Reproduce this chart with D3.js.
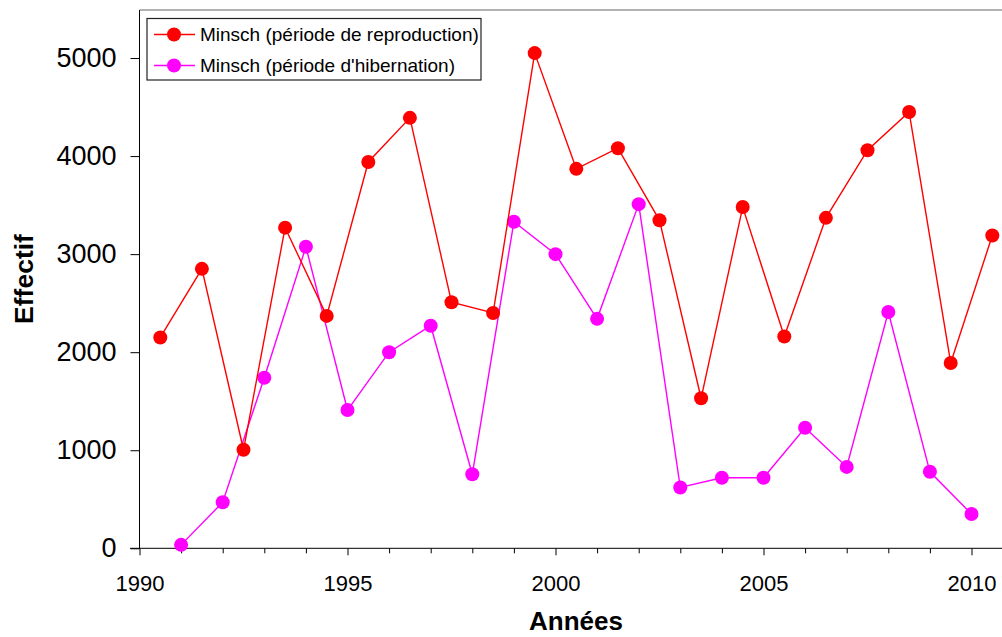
<!DOCTYPE html>
<html><head><meta charset="utf-8">
<script src="https://cdn.jsdelivr.net/npm/d3@7/dist/d3.min.js"></script>
<style>body{margin:0;background:#fff}svg{display:block;font-family:"Liberation Sans",Arial,sans-serif}</style>
</head><body>
<svg id="c" width="1002" height="637"></svg>
<script>
const yearsRepro = [1990.5,1991.5,1992.5,1993.5,1994.5,1995.5,1996.5,1997.5,1998.5,1999.5,2000.5,2001.5,2002.5,2003.5,2004.5,2005.5,2006.5,2007.5,2008.5,2009.5,2010.5];
const valuesRepro = [2150,2850,1005,3270,2370,3940,4390,2510,2400,5050,3870,4080,3345,1530,3480,2160,3370,4060,4450,1890,3190];
const yearsHiber = [1991,1992,1993,1994,1995,1996,1997,1998,1999,2000,2001,2002,2003,2004,2005,2006,2007,2008,2009,2010];
const valuesHiber = [35,470,1740,3075,1410,2000,2270,755,3330,3000,2340,3510,620,720,720,1230,830,2410,780,350];
const yTicks = [0,1000,2000,3000,4000,5000];
const xMajorTicks = [1990,1995,2000,2005,2010];
const seriesNames = ["Minsch (période de reproduction)","Minsch (période d'hibernation)"];
const seriesColors = ["#ff0000","#ff00ff"];

const svg = d3.select("#c");
const x = d3.scaleLinear().domain([1990,2011]).range([139.5,1013.1]);
const y = d3.scaleLinear().domain([0,5500]).range([548.3,9]);

// top border
svg.append("line").attr("x1",139.5).attr("x2",1002).attr("y1",10).attr("y2",10)
  .attr("stroke","#999").attr("stroke-width",1.5);

// y axis
const ya = svg.append("g").attr("transform","translate(139.5,0)")
  .call(d3.axisLeft(y).tickValues(yTicks).tickSize(9).tickPadding(14).tickSizeOuter(0).tickFormat(d3.format("d")));
ya.select(".domain").attr("stroke","#000").attr("d","M0,548.3V10");
ya.selectAll("text").attr("font-size",27).attr("fill","#000").attr("font-family","Liberation Sans, Arial, sans-serif");

// x axis minor
const xMinor = d3.range(1990,2012).filter(v=>!xMajorTicks.includes(v));
const xm = svg.append("g").attr("transform","translate(0,548.3)")
  .call(d3.axisBottom(x).tickValues(xMinor).tickSize(5).tickFormat("").tickSizeOuter(0));
xm.select(".domain").remove();
const xa = svg.append("g").attr("transform","translate(0,548.3)")
  .call(d3.axisBottom(x).tickValues(xMajorTicks).tickSize(7).tickPadding(20).tickSizeOuter(0).tickFormat(d3.format("d")));
xa.select(".domain").attr("d","M130,0H1013");
xa.selectAll("text").attr("font-size",22).attr("fill","#000").attr("font-family","Liberation Sans, Arial, sans-serif");

// axis titles
svg.append("text").attr("x",576).attr("y",630).attr("text-anchor","middle")
  .attr("font-weight","bold").attr("font-size",26).text("Années");
svg.append("text").attr("transform","translate(33,279) rotate(-90)").attr("text-anchor","middle")
  .attr("font-weight","bold").attr("font-size",26.5).text("Effectif");

// series
const line = d3.line().x(d=>x(d[0])).y(d=>y(d[1]));
const s1 = yearsRepro.map((d,i)=>[d,valuesRepro[i]]);
const s2 = yearsHiber.map((d,i)=>[d,valuesHiber[i]]);
[[s2,seriesColors[1]],[s1,seriesColors[0]]].forEach(([data,col])=>{
  svg.append("path").datum(data).attr("d",line).attr("fill","none").attr("stroke",col).attr("stroke-width",1.4);
  svg.append("g").selectAll("circle").data(data).join("circle")
    .attr("cx",d=>x(d[0])).attr("cy",d=>y(d[1])).attr("r",7).attr("fill",col);
});

// legend
const lg = svg.append("g");
lg.append("rect").attr("x",147).attr("y",18.5).attr("width",334).attr("height",61.5)
  .attr("fill","#fff").attr("stroke","#222").attr("stroke-width",1.2);
seriesNames.forEach((n,i)=>{
  const yy = 34.5 + i*31;
  lg.append("line").attr("x1",154).attr("x2",195).attr("y1",yy).attr("y2",yy).attr("stroke",seriesColors[i]).attr("stroke-width",1.4);
  lg.append("circle").attr("cx",174).attr("cy",yy).attr("r",7).attr("fill",seriesColors[i]);
  lg.append("text").attr("x",200).attr("y",yy+6.8).attr("font-size",19).attr("fill","#000").text(n);
});
</script>
</body></html>
